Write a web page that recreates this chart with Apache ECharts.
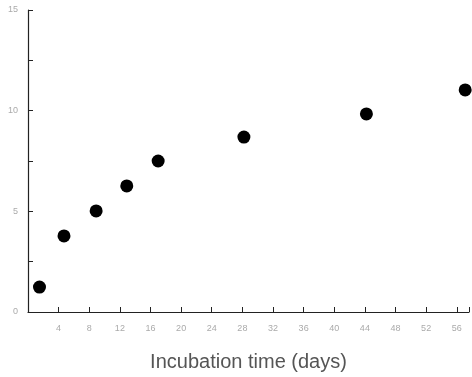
<!DOCTYPE html>
<html>
<head>
<meta charset="utf-8">
<script src="https://cdn.jsdelivr.net/npm/echarts@6/dist/echarts.min.js"></script>
<style>
  html, body { margin: 0; padding: 0; background: #fff; }
  #chart { width: 472px; height: 377px; }
</style>
</head>
<body>
<div id="chart"></div>
<script>
const days = [1.5, 4.7, 8.9, 12.9, 17.0, 28.2, 44.2, 57.1];
const values = [1.24, 3.78, 5.02, 6.26, 7.5, 8.69, 9.84, 11.03];

const chart = echarts.init(document.getElementById('chart'));

const option = {
  animation: false,
  grid: { left: 28, right: 2, top: 10, bottom: 65 },
  xAxis: {
    type: 'value',
    min: 0,
    max: 57.6,
    interval: 4,
    name: 'Incubation time (days)',
    nameLocation: 'middle',
    nameGap: 40,
    nameTextStyle: { color: '#555', fontSize: 20, fontFamily: 'Liberation Sans' },
    axisLine: { lineStyle: { color: '#222', width: 1.2 } },
    axisTick: { inside: true, length: 5, lineStyle: { color: '#222' } },
    axisLabel: {
      color: '#aaa',
      fontSize: 9,
      margin: 12,
      formatter: (v) => (v % 4 === 0 && v > 0 ? v : '')
    },
    splitLine: { show: false }
  },
  yAxis: {
    type: 'value',
    min: 0,
    max: 15,
    interval: 2.5,
    axisLine: { show: true, lineStyle: { color: '#222', width: 1.2 } },
    axisTick: { show: true, inside: true, length: 5, lineStyle: { color: '#222' } },
    axisLabel: {
      color: '#aaa',
      fontSize: 9,
      margin: 10,
      formatter: (v) => (v % 5 === 0 ? v : '')
    },
    splitLine: { show: false }
  },
  series: [
    {
      type: 'scatter',
      symbol: 'circle',
      symbolSize: 13,
      clip: false,
      itemStyle: { color: '#000', opacity: 1 },
      data: days.map((d, i) => [d, values[i]])
    }
  ]
};

chart.setOption(option);
</script>
</body>
</html>
